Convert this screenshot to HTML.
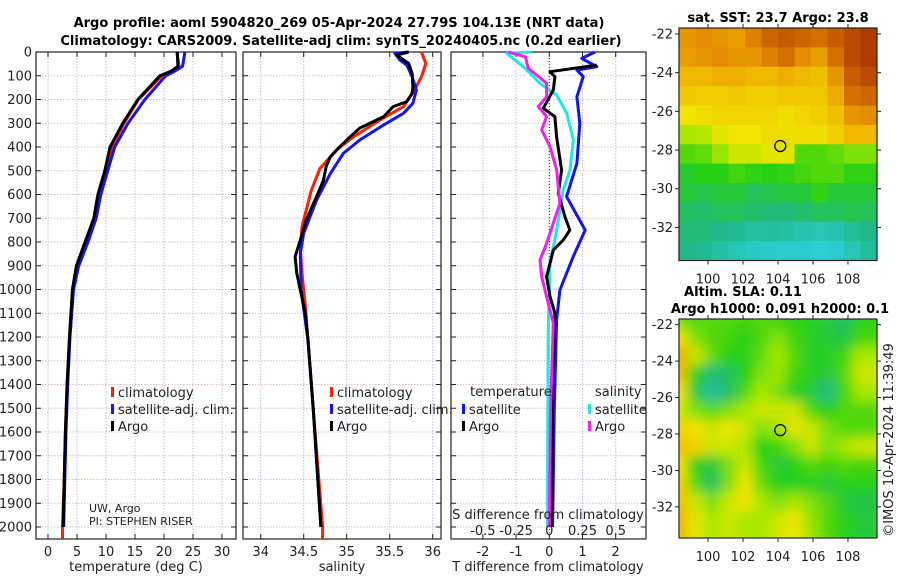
<!DOCTYPE html>
<html><head><meta charset="utf-8"><style>
body{margin:0;background:#fff;}
svg{display:block;font-family:"DejaVu Sans","Liberation Sans",sans-serif;}
</style></head><body>
<svg id="fig" width="900" height="580" viewBox="0 0 900 580" xmlns="http://www.w3.org/2000/svg">
<text x="339" y="27" text-anchor="middle" font-size="13" font-weight="bold">Argo profile: aoml 5904820_269 05-Apr-2024 27.79S 104.13E (NRT data)</text>
<text x="341" y="45" text-anchor="middle" font-size="13" font-weight="bold">Climatology: CARS2009. Satellite-adj clim: synTS_20240405.nc (0.2d earlier)</text>
<g id="layer"></g>
</svg>
<script>
// ---------- data ----------
const depthTicks=[0,100,200,300,400,500,600,700,800,900,1000,1100,1200,1300,1400,1500,1600,1700,1800,1900,2000];
const tempTicks=[0,5,10,15,20,25,30];
const salTicks=[34,34.5,35,35.5,36];
const tdiffTicks=[-2,-1,0,1,2];
const sdiffTicks=[-0.5,-0.25,0,0.25,0.5];
const sdiffTickLabels=["-0.5","-0.25","0","0.25","0.5"];

const tDepth=[0,60,80,100,200,300,400,500,600,700,800,900,1000,1200,1400,1600,1800,2000];
const tArgo=[22.3,22.4,21.3,19.3,15.5,12.9,10.7,9.8,8.6,7.9,6.4,4.9,4.2,3.7,3.3,3.0,2.8,2.6];
const tClimDepth=[0,60,80,100,200,300,400,500,600,700,800,900,1000,1200,1400,1600,1800,2000,2050];
const tClim=[22.2,22.6,21.5,19.6,15.6,13.1,11.0,10.0,8.9,8.2,6.8,5.1,4.3,3.7,3.3,3.0,2.8,2.5,2.5];
const tSat=[23.6,23.2,21.9,20.3,16.7,13.8,11.5,10.3,9.1,8.3,6.9,5.3,4.4,3.8,3.4,3.1,2.9,2.7];

const sArgoDepth=[0,13,48,90,146,174,209,230,272,293,321,357,399,441,483,539,609,707,792,862,932,1002,1100,1213,1500,2000];
const sArgo=[35.72,35.58,35.72,35.76,35.77,35.76,35.70,35.54,35.43,35.31,35.15,35.04,34.92,34.81,34.76,34.73,34.65,34.53,34.46,34.40,34.42,34.46,34.52,34.55,34.61,34.70];
const sClimDepth=[0,48,104,160,230,286,357,413,490,581,735,820,932,1072,1213,1500,2000,2050];
const sClim=[35.87,35.92,35.87,35.79,35.66,35.39,35.08,34.88,34.69,34.59,34.48,34.46,34.48,34.52,34.55,34.61,34.72,34.72];
const sSatDepth=[0,6,34,55,104,160,216,258,307,371,427,511,623,763,848,1002,1213,1500,2000];
const sSat=[35.72,35.56,35.62,35.70,35.76,35.81,35.77,35.66,35.43,35.15,34.96,34.81,34.65,34.50,34.46,34.47,34.55,34.61,34.70];

const dTDepthArgo=[55,83,104,160,237,272,357,497,595,693,750,792,834,890,946,1030,1100,1400,2000];
const dTArgo=[1.43,0.02,0.17,0.12,-0.18,0.17,0.22,0.37,0.27,0.47,0.62,0.42,0.12,0.02,-0.08,0.02,0.17,0.10,0.07];
const dTDepthSat=[0,27,62,76,104,188,300,469,609,750,862,1002,1128,1500,2000];
const dTSat=[1.38,0.98,1.43,0.83,1.02,0.83,0.92,0.83,0.52,1.08,0.72,0.32,0.22,0.15,0.10];
const dSDepthSat=[0,6,62,132,181,258,370,497,581,750,890,1170,2000];
const dSSat=[-0.133,-0.32,-0.195,-0.07,0.056,0.131,0.181,0.156,0.105,0.056,0.005,-0.008,-0.015];
const dSDepthArgo=[0,20,69,97,132,188,230,272,328,399,497,637,721,806,876,946,1030,1142,1500,2000];
const dSArgo=[-0.31,-0.18,-0.158,-0.095,-0.02,-0.02,-0.083,-0.02,-0.057,0.005,0.056,0.08,0.03,-0.02,-0.07,-0.057,-0.02,0.03,0.01,0.0];

const mapLonTicks=[100,102,104,106,108];
const mapLatTicks=[-22,-24,-26,-28,-30,-32];
const argoLon=104.13, argoLat=-27.79;
const sstGrid=[
[.80,.82,.80,.78,.85,.90,.92,.90,.88,.92,.95,.98],
[.78,.80,.82,.80,.80,.85,.88,.82,.78,.88,.95,.98],
[.72,.72,.74,.74,.72,.72,.74,.72,.70,.80,.92,.95],
[.68,.66,.66,.68,.66,.66,.68,.68,.68,.75,.88,.90],
[.60,.62,.64,.64,.64,.64,.62,.64,.66,.70,.80,.82],
[.50,.52,.58,.60,.60,.62,.62,.62,.62,.66,.72,.72],
[.40,.42,.48,.55,.55,.58,.58,.40,.40,.42,.45,.45],
[.32,.35,.35,.38,.36,.35,.36,.38,.40,.40,.36,.36],
[.30,.28,.30,.30,.26,.28,.30,.30,.36,.30,.30,.30],
[.25,.24,.26,.26,.24,.22,.22,.24,.26,.26,.28,.26],
[.22,.22,.20,.18,.14,.15,.14,.12,.10,.12,.16,.20],
[.20,.18,.14,.10,.06,.05,.04,.04,.02,.04,.10,.16]];
const slaGrid=[
[.42,.40,.40,.40,.38,.40,.38,.35,.35,.30,.25,.35],
[.60,.45,.40,.38,.35,.40,.45,.38,.33,.30,.28,.38],
[.75,.55,.42,.35,.35,.42,.50,.40,.33,.33,.38,.50],
[.70,.35,.22,.25,.35,.45,.48,.38,.33,.30,.40,.55],
[.60,.30,.15,.25,.40,.50,.45,.33,.30,.20,.38,.50],
[.55,.45,.40,.45,.50,.55,.55,.55,.40,.35,.40,.40],
[.65,.60,.55,.60,.55,.45,.50,.58,.55,.45,.40,.40],
[.70,.65,.55,.55,.50,.35,.38,.45,.55,.45,.50,.55],
[.60,.35,.30,.45,.55,.38,.30,.35,.40,.38,.40,.38],
[.65,.40,.25,.45,.60,.42,.35,.33,.35,.30,.35,.35],
[.70,.55,.45,.55,.60,.50,.45,.50,.45,.40,.30,.28],
[.72,.58,.50,.55,.50,.50,.55,.60,.48,.40,.35,.30]];

// ---------- helpers ----------
const NS="http://www.w3.org/2000/svg";
const L=document.getElementById('layer');
function mk(tag,attrs,parent){const e=document.createElementNS(NS,tag);for(const k in attrs)e.setAttribute(k,attrs[k]);(parent||L).appendChild(e);return e;}
function txt(x,y,s,attrs){const e=mk('text',Object.assign({x:x,y:y,'font-size':12.5,fill:'#222'},attrs||{}));e.textContent=s;return e;}
const top0=52, bot=539;
const yD=d=>top0+d*0.2375;

function panel(name,x0,x1,xs,ticks,labels,showDepthLabels){
  const g=mk('g',{});
  
  
  ticks.forEach(t=>{const l=mk('line',{x1:xs(t),x2:xs(t),y1:top0,y2:bot,stroke:'#b9c2e4','stroke-width':1,'stroke-dasharray':'1.5,1.5'},g);
    });
  depthTicks.forEach(d=>{const l=mk('line',{x1:x0,x2:x1,y1:yD(d),y2:yD(d),stroke:'#d8c0c0','stroke-width':1,'stroke-dasharray':'1.5,1.5'},g);
    
    mk('line',{x1:x0,x2:x0+5,y1:yD(d),y2:yD(d),stroke:'#222'},g);
    mk('line',{x1:x1-5,x2:x1,y1:yD(d),y2:yD(d),stroke:'#222'},g);
    if(showDepthLabels){const t=txt(x0-4,yD(d)+4.5,String(d),{'text-anchor':'end','font-size':13});
      }
  });
  ticks.forEach((t,i)=>{mk('line',{x1:xs(t),x2:xs(t),y1:top0,y2:top0+5,stroke:'#222'},g);mk('line',{x1:xs(t),x2:xs(t),y1:bot-5,y2:bot,stroke:'#222'},g);
    if(labels){const e=txt(xs(t),556,labels[i],{'text-anchor':'middle','font-size':13});}});
  const r=mk('rect',{x:x0,y:top0,width:x1-x0,height:bot-top0,fill:'none',stroke:'#222','stroke-width':1.2},g);
  
  return g;
}
function line(name,xs,vals,depths,color,w){
  const d=vals.map((v,i)=>(i?'L':'M')+xs(v).toFixed(1)+','+yD(depths[i]).toFixed(1)).join('');
  const p=mk('path',{d:d,fill:'none',stroke:color,'stroke-width':w||3,'stroke-linejoin':'round'});
  
  return p;
}
function legend(x,y,color,label,name){
  mk('rect',{x:x,y:y-9,width:3,height:10,fill:color});
  const t=txt(x+7,y+1,label,{'font-size':13});
  
}

// ---------- panel 1: temperature ----------
const xT=v=>48+v*5.8;
panel('temperature-panel',36,236,xT,tempTicks,tempTicks.map(String),true);
line('temperature-climatology-line',xT,tClim,tClimDepth,'#ff2000');
line('temperature-satellite-line',xT,tSat,tDepth,'#1414f0');
line('temperature-argo-line',xT,tArgo,tDepth,'#000');
let e=txt(136,571,'temperature (deg C)',{'text-anchor':'middle','font-size':13});

legend(111,396,'#ff2000','climatology','legend-climatology');
legend(111,413,'#1414f0','satellite-adj. clim.','legend-satellite');
legend(111,430,'#000','Argo','legend-argo');
e=txt(89,512,'UW, Argo',{'font-size':11});
e=txt(89,525,'PI: STEPHEN RISER',{'font-size':11});

// ---------- panel 2: salinity ----------
const xS=v=>260.7+(v-34)*86;
panel('salinity-panel',243,441,xS,salTicks,salTicks.map(String),false);
line('salinity-climatology-line',xS,sClim,sClimDepth,'#ff2000');
line('salinity-satellite-line',xS,sSat,sSatDepth,'#1414f0');
line('salinity-argo-line',xS,sArgo,sArgoDepth,'#000');
e=txt(342,571,'salinity',{'text-anchor':'middle','font-size':13});

legend(330,396,'#ff2000','climatology','legend-climatology-sal');
legend(330,413,'#1414f0','satellite-adj. clim.','legend-satellite-sal');
legend(330,430,'#000','Argo','legend-argo-sal');

// ---------- panel 3: differences ----------
const xDT=v=>549.3+v*33.2;
const xDS=v=>549.3+v*4*33.2;
panel('difference-panel',451,646,xDT,tdiffTicks,tdiffTicks.map(String),false);
e=mk('line',{x1:549.3,x2:549.3,y1:top0,y2:bot,stroke:'#333','stroke-width':1,'stroke-dasharray':'1,2'});

line('salinity-diff-satellite-line',xDS,dSSat,dSDepthSat,'#20e8e8');
line('temperature-diff-satellite-line',xDT,dTSat,dTDepthSat,'#1414f0');
line('temperature-diff-argo-line',xDT,dTArgo,dTDepthArgo,'#000');
line('salinity-diff-argo-line',xDS,dSArgo,dSDepthArgo,'#f020f0');
e=txt(548,571,'T difference from climatology',{'text-anchor':'middle','font-size':13});

e=txt(548,519,'S difference from climatology',{'text-anchor':'middle','font-size':13});

sdiffTicks.forEach((t,i)=>{const q=txt(xDS(t),535,sdiffTickLabels[i],{'text-anchor':'middle','font-size':13});});
e=txt(470,396,'temperature',{'font-size':13});
e=txt(595,396,'salinity',{'font-size':13});
legend(462,413,'#1414f0','satellite','legend-t-satellite');
legend(462,430,'#000','Argo','legend-t-argo');
legend(588,413,'#20e8e8','satellite','legend-s-satellite');
legend(588,430,'#f020f0','Argo','legend-s-argo');

// ---------- maps ----------
const cstops=[[0,[48,208,224]],[0.2,[32,184,136]],[0.35,[40,208,20]],[0.5,[168,232,0]],[0.6,[240,228,0]],[0.72,[240,184,0]],[0.85,[224,128,0]],[1,[168,48,0]]];
function cmap(v){for(let i=1;i<cstops.length;i++){if(v<=cstops[i][0]){const a=cstops[i-1],b=cstops[i];const f=(v-a[0])/(b[0]-a[0]);
  return 'rgb('+a[1].map((c,k)=>Math.round(c+(b[1][k]-c)*f)).join(',')+')';}}return 'rgb(168,48,0)';}
function drawMap(name,grid,x0,x1,y0,y1,smooth){
  const g=mk('g',{});
  
  const cid=name+'-clip';
  const cp=mk('clipPath',{id:cid},g);mk('rect',{x:x0,y:y0,width:x1-x0,height:y1-y0},cp);
  const inner=mk('g',{'clip-path':'url(#'+cid+')'},g);
  const cells=smooth?mk('g',{filter:'url(#blur)'},inner):inner;
  const rows=grid.length,cols=grid[0].length,cw=(x1-x0)/cols,ch=(y1-y0)/rows;
  grid.forEach((row,r)=>row.forEach((v,c)=>{const q=mk('rect',{x:x0+c*cw-(smooth?cw*0.5:0),y:y0+r*ch-(smooth?ch*0.5:0),width:cw+(smooth?cw:0.5),height:ch+(smooth?ch:0.5),fill:cmap(v)},cells);
    }));
  const lonX=v=>x0+(v-98.34)*(x1-x0)/(109.66-98.34);
  const latY=v=>y0+(-21.69-v)*(y1-y0)/(33.71-21.69)*1;
  mk('rect',{x:x0,y:y0,width:x1-x0,height:y1-y0,fill:'none',stroke:'#222','stroke-width':1.2},g);
  mapLonTicks.forEach(t=>{mk('line',{x1:lonX(t),x2:lonX(t),y1:y1,y2:y1+4,stroke:'#222'},g);mk('line',{x1:lonX(t),x2:lonX(t),y1:y0-4,y2:y0,stroke:'#222'},g);
    const q=txt(lonX(t),y1+23,String(t),{'text-anchor':'middle','font-size':13});});
  mapLatTicks.forEach(t=>{mk('line',{x1:x0-4,x2:x0,y1:latY(t),y2:latY(t),stroke:'#222'},g);mk('line',{x1:x1,x2:x1+4,y1:latY(t),y2:latY(t),stroke:'#222'},g);
    const q=txt(x0-6,latY(t)+4.5,String(t),{'text-anchor':'end','font-size':13});});
  const c=mk('circle',{cx:lonX(argoLon),cy:latY(argoLat),r:5.5,fill:'none',stroke:'#000','stroke-width':1.3},g);
  
}
const defs=mk('defs',{});
const f=mk('filter',{id:'blur',x:'-10%',y:'-10%',width:'120%',height:'120%'},defs);
mk('feGaussianBlur',{stdDeviation:6},f);
drawMap('sst-map',sstGrid,679,877,28,260.5,false);
drawMap('sla-map',slaGrid,679,877,319,538,true);
e=txt(778,22,'sat. SST: 23.7 Argo: 23.8',{'text-anchor':'middle','font-size':13,'font-weight':'bold',fill:'#000'});

e=txt(743,296,'Altim. SLA: 0.11',{'text-anchor':'middle','font-size':13,'font-weight':'bold',fill:'#000'});

e=txt(780,313,'Argo h1000: 0.091 h2000: 0.1',{'text-anchor':'middle','font-size':13,'font-weight':'bold',fill:'#000'});

e=txt(0,0,'©IMOS 10-Apr-2024 11:39:49',{'text-anchor':'middle','font-size':13,transform:'translate(893,440) rotate(-90)'});

</script>
</body></html>
